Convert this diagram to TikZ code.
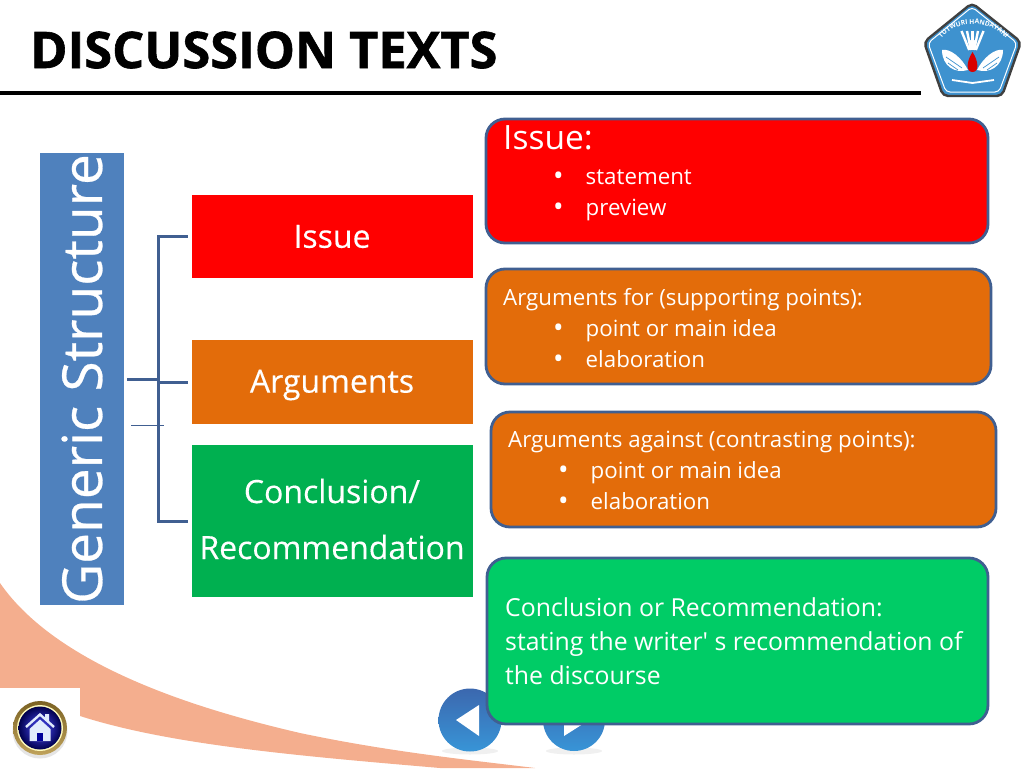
\documentclass[tikz,border=0pt]{standalone}
\usepackage{fontspec}
\setmainfont{Open Sans}
\newfontfamily\plainfont{Open Sans}
\usetikzlibrary{arrows.meta, positioning, calc, decorations.text}
\definecolor{spineblue}{RGB}{79,129,189}
\definecolor{linkblue}{RGB}{64,95,145}
\definecolor{issred}{RGB}{255,0,0}
\definecolor{argorange}{RGB}{227,108,10}
\definecolor{conclgreen}{RGB}{0,176,80}
\definecolor{notegreen}{RGB}{0,204,102}
\definecolor{peach}{RGB}{244,174,142}
\definecolor{navball}{RGB}{70,122,205}
\definecolor{crestblue}{RGB}{62,146,207}
\definecolor{ringgold}{RGB}{176,140,50}
\definecolor{homeblue}{RGB}{225,235,252}
\newcommand{\bul}[1]{\hspace*{50pt}\raisebox{-1.2pt}{\fontsize{28}{31}\selectfont\textbullet}\hspace{22pt}#1}
\newcommand{\nudge}[2]{\raisebox{#1}[\height][\depth]{#2}}
\begin{document}
\begin{tikzpicture}[x=1pt,y=-1pt,
    sect/.style={minimum width=281pt,align=center,text=white,inner sep=0pt,
                 font=\fontsize{32}{56}\selectfont\addfontfeature{FakeBold=0.3}},
    note/.style={draw=linkblue,line width=2.8pt,rounded corners=19pt,
                 minimum width=#1,inner sep=0pt},
    notetxt/.style={anchor=west,align=left,text=white,inner sep=0pt,
                    font=\fontsize{22.3}{31}\selectfont},
    lnk/.style={linkblue,line width=3pt},
    navbtn/.style={top color=navball!85!black,bottom color=navball!80!cyan,
                   draw=none},
    fan/.style={white,line width=2.4pt}
  ]
    \useasboundingbox (0,0) rectangle (1024,768);

    %% Swoosh ──────────────────────────────────
    \fill[peach] (0,583) .. controls (60,670) and (210,712) .. (300,733)
          .. controls (390,752) and (470,760) .. (535,768) -- (440,768)
          .. controls (300,756) and (170,745) .. (80,716) -- (0,688) -- cycle;
    \fill[white] (0,688) rectangle (80,768);

    %% Title ───────────────────────────────────
    \node[anchor=west,inner sep=0pt,
          font=\fontsize{50.5}{51}\selectfont\bfseries\addfontfeature{FakeBold=1.2}] (title)
          at (30,50) {DISCUSSION TEXTS};
    \draw[line width=4.5pt] (0,93) -- (921,93);

    %% Crest ───────────────────────────────────
    \draw[fill=crestblue,draw=black!75,line width=2.4pt,rounded corners=5pt]
        (972,3) -- (1021,42) -- (1002,96) -- (943,96) -- (924,42) -- cycle;
    \draw[white,line width=1pt,rounded corners=4pt]
        (972,7) -- (1017,43) -- (999,92) -- (946,92) -- (928,43) -- cycle;
    \path[decorate,decoration={text along path,text align=center,
          text={|\fontsize{6.6}{7}\selectfont\bfseries\color{white}|TUTWURI HANDAYANI}}]
        (936,48) .. controls (948,16) and (997,16) .. (1012,48);
    \foreach \dx in {-11,-5.5,0,5.5,11}
      \draw[fan] (972.5+\dx,31) -- (972.5+\dx*0.3,50);
    \fill[white] (942,50) .. controls (950,48) and (962,58) .. (968,70)
          .. controls (955,74) and (942,66) .. cycle;
    \fill[white] (1003,50) .. controls (995,48) and (983,58) .. (977,70)
          .. controls (990,74) and (1003,66) .. cycle;
    \draw[crestblue,line width=.7pt] (946,57) -- (962,68) (948,63) -- (958,70);
    \draw[crestblue,line width=.7pt] (999,57) -- (983,68) (997,63) -- (987,70);
    \fill[white] (972.5,43) circle (3.6pt);
    \fill[red!85!black] (972.5,52) .. controls (966,62) and (966,72) .. (972.5,72)
          .. controls (979,72) and (979,62) .. cycle;
    \draw[white,line width=1.8pt] (952,80) -- (972.5,83) -- (994,80);

    %% Structure boxes ─────────────────────────
    \node[fill=spineblue,minimum width=84pt,minimum height=452pt,inner sep=0pt] (spine)
          at (82,379) {};
    \node[rotate=90,text=white,inner sep=0pt,
          font=\fontsize{55}{55}\selectfont\addfontfeature{FakeBold=0.5}] (spinetxt)
          at (spine.center) {Generic Structure};
    \node[sect,fill=issred,minimum height=83pt] (issue) at (332,236.5) {Issue};
    \node[sect,fill=argorange,minimum height=84pt] (args) at (332,382) {\nudge{-3pt}{Arguments}};
    \node[sect,fill=conclgreen,minimum height=152pt] (concl) at (332,521)
          {\nudge{2pt}{Conclusion/}\\\nudge{2pt}{Recommendation}};

    %% Tree links ──────────────────────────────
    \coordinate (fork) at (158,379);
    \draw[lnk] (spine.east |- fork) ++(3,0) -- (fork);
    \draw[lnk,shorten >=3pt] (fork) |- (issue.west);
    \draw[lnk,shorten >=3pt] (fork |- args.west) -- (args.west);
    \draw[lnk,shorten >=3pt] (fork) |- (concl.west);
    \coordinate (stubL) at (131,425.5);
    \coordinate (stubR) at (164,425.5);
    \draw[linkblue,line width=.8pt] (stubL) -- (stubR);

    %% Nav buttons ─────────────────────────────
    \fill[black!6] (470,751) ellipse (28pt and 3.5pt);
    \fill[black!6] (574,751) ellipse (28pt and 3.5pt);
    \path[navbtn] (470,720) circle (31.5pt);
    \path[navbtn] (574,720) circle (31pt);
    \fill[white] (456,720) -- (479,705) -- (479,736) -- cycle;
    \fill[white] (564,708) -- (586,722) -- (564,736) -- cycle;

    %% Home button ─────────────────────────────
    \fill[black!10] (40,731) circle (27.5pt);
    \shade[top color=ringgold!70!black,bottom color=ringgold!80!white] (40,728) circle (27pt);
    \fill[white!75!yellow] (40,728) circle (23pt);
    \shade[inner color=blue!70!white,outer color=blue!30!black] (40,728) circle (21.5pt);
    \draw[homeblue,line width=2.4pt,line join=miter] (26,727) -- (40,714.5) -- (54,727);
    \fill[homeblue] (45,719) -- (45,714) -- (49,714) -- (49,722) -- cycle;
    \fill[homeblue] (29.5,729) -- (40,719.5) -- (50.5,729) -- (50.5,741) -- (29.5,741) -- cycle;
    \fill[blue!60!black] (36.8,741) rectangle (43.2,733);

    %% Notes ───────────────────────────────────
    \node[note=502pt,fill=issred,minimum height=124pt] (noteA) at (737,181) {};
    \node[notetxt,font=\fontsize{33.5}{34}\selectfont] (noteAhead) at (503,138) {Issue:};
    \node[notetxt] (noteAlist) at (503,195) {\bul{statement}\\\bul{preview}};

    \node[note=505pt,fill=argorange,minimum height=115pt] (noteB) at (738.5,326.5) {};
    \node[notetxt] (noteBtxt) at (503,328.5)
          {Arguments for (supporting points):\\\bul{point or main idea}\\\bul{elaboration}};

    \node[note=505pt,fill=argorange,minimum height=115pt] (noteC) at (743.5,469.5) {};
    \node[notetxt] (noteCtxt) at (508,471)
          {Arguments against (contrasting points):\\\bul{point or main idea}\\\bul{elaboration}};

    \node[note=501pt,fill=notegreen,minimum height=166pt] (noteD) at (737.5,641) {};
    \node[notetxt,font=\fontsize{24.8}{34}\selectfont] (noteDtxt) at (505,641)
          {Conclusion or Recommendation:\\stating the writer{\plainfont'} s recommendation of\\the discourse};
\end{tikzpicture}
\end{document}
